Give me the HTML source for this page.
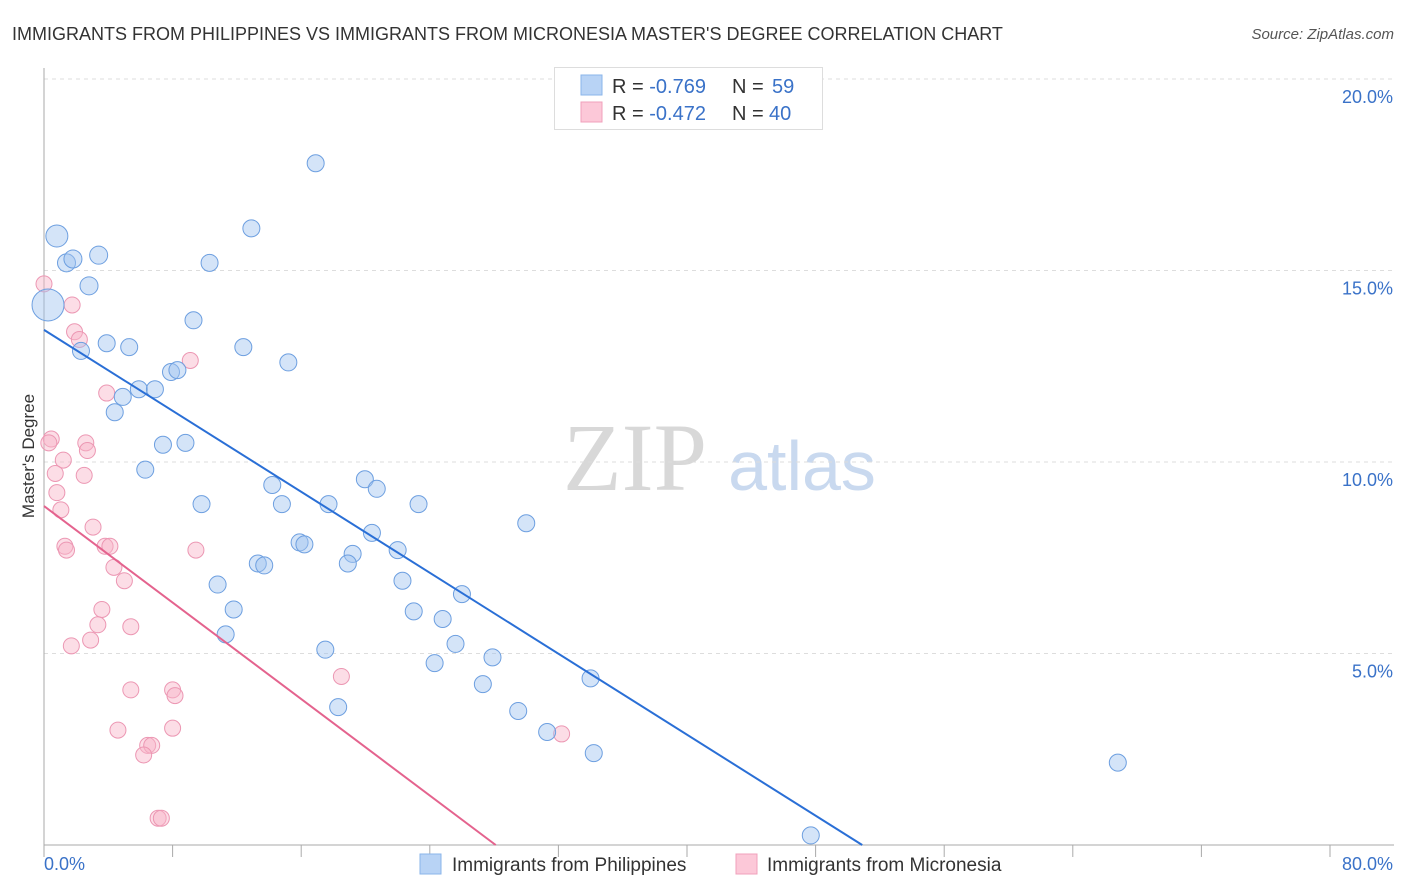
<!DOCTYPE html>
<html><head><meta charset="utf-8">
<style>
body{margin:0;background:#fff;font-family:"Liberation Sans",sans-serif;}
svg{display:block}
</style></head>
<body>
<svg id="chart" width="1406" height="892" xmlns="http://www.w3.org/2000/svg" font-family="Liberation Sans, sans-serif">
<text x="12" y="40" font-size="18" fill="#333">IMMIGRANTS FROM PHILIPPINES VS IMMIGRANTS FROM MICRONESIA MASTER'S DEGREE CORRELATION CHART</text>
<text x="1394" y="39" font-size="15" fill="#555" font-style="italic" text-anchor="end">Source: ZipAtlas.com</text>
<text transform="translate(34,456) rotate(-90)" font-size="17" fill="#333" text-anchor="middle">Master's Degree</text>
<g>
<text x="635" y="490" font-size="96" fill="#d8d8d8" font-family="Liberation Serif, serif" text-anchor="middle">ZIP</text>
<text x="802" y="490" font-size="70" fill="#c9d9ef" text-anchor="middle">atlas</text>
</g>
<g id="grid"></g>
<g id="axes"></g>
<g id="marks"></g>
<g>
<rect x="554.5" y="67.5" width="268" height="62" fill="#fff" stroke="#ddd"/>
<rect x="581" y="75" width="21" height="20" fill="#b8d3f5" stroke="#8ab4ea"/>
<rect x="581" y="102" width="21" height="20" fill="#fcc8d8" stroke="#f0a0bb"/>
<text x="612" y="93" font-size="20" fill="#333">R = <tspan fill="#3a72c8">-0.769</tspan><tspan x="732">N = </tspan><tspan fill="#3a72c8" x="772">59</tspan></text>
<text x="612" y="120" font-size="20" fill="#333">R = <tspan fill="#3a72c8">-0.472</tspan><tspan x="732">N = </tspan><tspan fill="#3a72c8" x="769">40</tspan></text>
</g>
<g>
<rect x="420" y="854" width="21" height="20" fill="#b8d3f5" stroke="#8ab4ea"/>
<text x="452" y="871" font-size="19" fill="#333">Immigrants from Philippines</text>
<rect x="736" y="854" width="21" height="20" fill="#fcc8d8" stroke="#f0a0bb"/>
<text x="767" y="871" font-size="19" fill="#333">Immigrants from Micronesia</text>
</g>
</svg>
<script>
const xTicks=[0,8,16,24,32,40,48,56,64,72,80];
const yTicks=[5,10,15,20];
const yTickLabels=["5.0%","10.0%","15.0%","20.0%"];
const xLabels=["0.0%","80.0%"];
const blueX=[0.8,1.4,1.8,3.4,2.8,0.25,2.3,3.9,5.3,4.9,5.9,6.9,4.4,7.9,8.3,9.3,10.3,12.9,16.9,12.4,15.2,7.4,8.8,6.3,9.8,14.2,14.8,17.7,19.96,20.7,23.3,30.0,15.9,16.2,20.4,19.2,18.9,22.0,13.3,13.7,10.8,11.8,11.3,22.3,23.0,24.8,26.0,25.6,24.3,27.9,27.3,17.5,18.3,29.5,31.3,34.0,34.2,66.8,47.7];
const blueY=[15.9,15.2,15.3,15.4,14.6,14.1,12.9,13.1,13.0,11.7,11.9,11.9,11.3,12.35,12.4,13.7,15.2,16.1,17.8,13.0,12.6,10.45,10.5,9.8,8.9,9.4,8.9,8.9,9.55,9.3,8.9,8.4,7.9,7.85,8.15,7.6,7.35,7.7,7.35,7.3,6.8,6.15,5.5,6.9,6.1,5.9,6.55,5.25,4.75,4.9,4.2,5.1,3.6,3.5,2.95,4.35,2.4,2.15,0.25];
const blueR=[11,9,9,9,9,16];
const pinkX=[0,1.75,1.9,2.2,9.1,3.9,0.45,0.3,2.6,2.7,1.2,0.7,2.5,0.8,1.05,3.05,1.3,1.4,3.8,4.1,9.45,4.35,5.0,3.6,3.35,5.4,2.9,1.7,5.4,8.0,8.15,18.5,4.6,8.0,6.45,6.7,6.2,32.2,7.1,7.3];
const pinkY=[14.65,14.1,13.4,13.2,12.65,11.8,10.6,10.5,10.5,10.3,10.05,9.7,9.65,9.2,8.75,8.3,7.8,7.7,7.8,7.8,7.7,7.25,6.9,6.15,5.75,5.7,5.35,5.2,4.05,4.05,3.9,4.4,3.0,3.05,2.6,2.6,2.35,2.9,0.7,0.7];
const blueTrend=[[0,13.45],[50.9,0]];
const pinkTrend=[[0,8.85],[28.1,0]];
const NS="http://www.w3.org/2000/svg";
const X0=44,X1=1330,Y0=845,YT=79;
function sx(v){return X0+(X1-X0)*v/80;}
function sy(v){return Y0-(Y0-YT)*v/20;}
function mk(tag,attrs,parent){const e=document.createElementNS(NS,tag);for(const k in attrs)e.setAttribute(k,attrs[k]);parent.appendChild(e);return e;}
const grid=document.getElementById('grid'),axes=document.getElementById('axes'),marks=document.getElementById('marks');
yTicks.forEach((t,i)=>{
 const l=mk('line',{x1:X0,x2:1394,y1:sy(t),y2:sy(t),stroke:'#ddd','stroke-dasharray':'4,4'},grid);
 
 
 const tx=mk('text',{x:1393,y:sy(t)+24,'font-size':18,fill:'#3a72c8','text-anchor':'end'},axes);
 tx.textContent=yTickLabels[i];
 
 
});
const ya=mk('line',{x1:X0,x2:X0,y1:68,y2:Y0,stroke:'#aaa'},axes);


const xa=mk('line',{x1:X0,x2:1394,y1:Y0,y2:Y0,stroke:'#aaa'},axes);


xTicks.forEach(t=>{
 const l=mk('line',{x1:sx(t),x2:sx(t),y1:Y0,y2:Y0+12,stroke:'#aaa'},axes);
 
 
});
const xl0=mk('text',{x:44,y:870,'font-size':18,fill:'#3a72c8'},axes);xl0.textContent=xLabels[0];


const xl1=mk('text',{x:1393,y:870,'font-size':18,fill:'#3a72c8','text-anchor':'end'},axes);xl1.textContent=xLabels[1];


pinkX.forEach((v,i)=>{
 const c=mk('circle',{cx:sx(v),cy:sy(pinkY[i]),r:8,fill:'rgba(248,180,200,0.45)',stroke:'#ec97b3','stroke-width':1},marks);
 
 
});
blueX.forEach((v,i)=>{
 const c=mk('circle',{cx:sx(v),cy:sy(blueY[i]),r:blueR[i]||8.5,fill:'rgba(160,196,240,0.45)',stroke:'#6d9fe0','stroke-width':1},marks);
 
 
});
const bl=mk('line',{x1:sx(blueTrend[0][0]),y1:sy(blueTrend[0][1]),x2:sx(blueTrend[1][0]),y2:sy(blueTrend[1][1]),stroke:'#2a6fd6','stroke-width':2},marks);


const pl=mk('line',{x1:sx(pinkTrend[0][0]),y1:sy(pinkTrend[0][1]),x2:sx(pinkTrend[1][0]),y2:sy(pinkTrend[1][1]),stroke:'#e4638e','stroke-width':2},marks);


</script>
</body></html>
